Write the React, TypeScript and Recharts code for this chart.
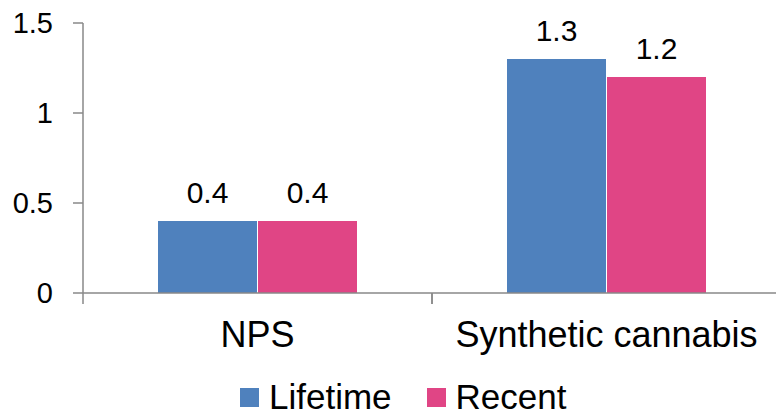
import React from 'react';
import { BarChart, Bar, XAxis, YAxis, Legend, LabelList } from 'recharts';

const CATEGORIES = ['NPS', 'Synthetic cannabis'];
const LIFETIME = [0.4, 1.3];
const RECENT = [0.4, 1.2];
const Y_TICKS = [0, 0.5, 1, 1.5];

const BLUE = '#4F81BD';
const PINK = '#E04585';
const AXIS = '#898989';
const FONT = '"Liberation Sans", Arial, sans-serif';

const data = CATEGORIES.map((name, i) => ({
  name,
  lifetime: LIFETIME[i],
  recent: RECENT[i],
}));

// excel-style category axis: tick marks sit on the band edges, label in the middle
const CategoryTick = (props: any) => {
  const { x, y, payload } = props;
  const half = payload?.offset || 174.5;
  return (
    <g>
      <line x1={x - half} y1={y - 11} x2={x - half} y2={y} stroke={AXIS} strokeWidth={1.5} />
      <line x1={x + half} y1={y - 11} x2={x + half} y2={y} stroke={AXIS} strokeWidth={1.5} />
      <text x={x} y={y + 43} textAnchor="middle" fontSize={36} fill="#000" fontFamily={FONT}>
        {payload.value}
      </text>
    </g>
  );
};

const LegendContent = () => {
  const items = [
    { label: 'Lifetime', color: BLUE },
    { label: 'Recent', color: PINK },
  ];
  return (
    <div style={{ display: 'flex', alignItems: 'center', fontFamily: FONT, fontSize: 35, lineHeight: '26px', height: 26 }}>
      {items.map((it, i) => (
        <div key={it.label} style={{ display: 'flex', alignItems: 'center', marginLeft: i ? 35 : 0 }}>
          <span style={{ width: 19, height: 19, background: it.color, display: 'inline-block', marginRight: 10 }} />
          <span style={{ color: '#000', lineHeight: '26px' }}>{it.label}</span>
        </div>
      ))}
    </div>
  );
};

export default function App() {
  return (
    <div style={{ position: 'absolute', left: 0, top: 0, width: 776, height: 418, overflow: 'hidden', background: '#fff' }}>
      <BarChart
        width={790}
        height={418}
        data={data}
        margin={{ top: 23, right: 9, left: 0, bottom: 65 }}
        barCategoryGap={75}
        barGap={1}
        style={{ fontFamily: FONT }}
      >
        <XAxis
          dataKey="name"
          height={60}
          tickLine={false}
          tickSize={11}
          tickMargin={0}
          axisLine={{ stroke: AXIS, strokeWidth: 1.5 }}
          tick={<CategoryTick />}
          interval={0}
        />
        <YAxis
          width={83}
          domain={[0, 1.5]}
          ticks={Y_TICKS}
          tickSize={10}
          tickMargin={20}
          axisLine={{ stroke: AXIS, strokeWidth: 1.5 }}
          tickLine={{ stroke: AXIS, strokeWidth: 1.5 }}
          tick={{ fill: '#000', fontSize: 29, fontFamily: FONT }}
        />
        <Legend
          layout="horizontal"
          verticalAlign="middle"
          align="center"
          content={<LegendContent />}
          wrapperStyle={{ top: 384, left: 240, width: 'auto' }}
        />
        <Bar dataKey="lifetime" name="Lifetime" fill={BLUE} isAnimationActive={false}>
          <LabelList dataKey="lifetime" position="top" offset={18} fill="#000" fontSize={30} fontFamily={FONT} />
        </Bar>
        <Bar dataKey="recent" name="Recent" fill={PINK} isAnimationActive={false}>
          <LabelList dataKey="recent" position="top" offset={18} fill="#000" fontSize={30} fontFamily={FONT} />
        </Bar>
      </BarChart>
    </div>
  );
}
